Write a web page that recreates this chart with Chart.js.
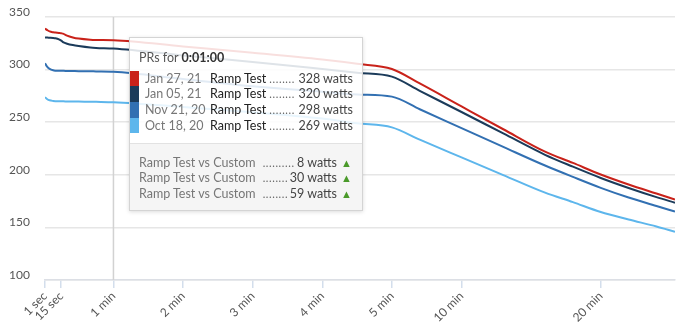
<!DOCTYPE html>
<html>
<head>
<meta charset="utf-8">
<script src="https://cdn.jsdelivr.net/npm/chart.js@4"></script>
<style>
  html, body { margin: 0; padding: 0; background: #fff; }
  #wrap { position: relative; width: 690px; height: 336px; font-family: Lato, "Open Sans", sans-serif; }
  canvas { display: block; }
  .pr-tip {
    position: absolute; box-sizing: border-box; width: 234px; height: 174px;
    border: 1px solid #d4d4d4; background: rgba(255, 255, 255, 0.86);
    box-shadow: 0 1px 4px rgba(0, 0, 0, 0.14); font-size: 12.5px; color: #666;
  }
  .pr-tip .head { padding: 11.5px 0 0 9px; line-height: 16px; height: 16px; color: #555; font-size: 12.5px; }
  .pr-tip .head b { color: #333; }
  .pr-tip .rows { margin-top: 5.3px; height: 62.4px; }
  .pr-tip .row { display: flex; height: 15.6px; line-height: 15.6px; white-space: nowrap; padding-right: 9px; }
  .pr-tip .sw { width: 9.5px; flex: none; margin-right: 5.5px; }
  .pr-tip .date { width: 65px; flex: none; color: #777; }
  .pr-tip .name { color: #222; flex: none; margin-right: 3px; }
  .pr-tip .lead { flex: 1; overflow: hidden; color: #666; letter-spacing: 0.6px; font-size: 11px; }
  .pr-tip .val { flex: none; color: #444; margin-left: 3px; }
  .pr-tip .foot {
    position: absolute; left: 0; right: 0; top: 105px; bottom: 0;
    border-top: 1px solid #e2e2e2; background: rgba(244, 244, 244, 0.9);
    padding: 10.5px 10px 0 9px;
  }
  .pr-tip .foot .row { padding-right: 0; }
  .pr-tip .foot .name { color: #777; }
  .pr-tip .up { flex: none; color: #4a9a2a; font-size: 11px; margin-left: 4px; }
</style>
</head>
<body>
<div id="wrap">
  <canvas id="curve" width="690" height="336"></canvas>
  <div id="tip" class="pr-tip">
    <div class="head">PRs for <b>0:01:00</b></div>
    <div class="rows"></div>
    <div class="foot"></div>
  </div>
</div>
<script>
// Durations of each power-curve point, in seconds
const durations = [1, 3, 5, 8, 10, 13, 15, 17, 20, 25, 30, 40, 45, 60, 120, 180, 240, 270, 300, 420, 600, 780, 960, 1080, 1200, 1320, 1440, 1520]

// Best watts per duration for each PR
const jan27 = [339, 337.5, 336.3, 335.5, 335.2, 334.8, 334.5, 334, 332.3, 330.6, 329.5, 328.4, 328.2, 328, 322, 316, 309.5, 305.5, 300.6, 286.8, 265, 243.3, 222, 211.3, 200.3, 190.8, 182.2, 176.5]
const jan05 = [330.6, 330.4, 330.3, 330.1, 329.8, 328.8, 327.5, 325.8, 324.6, 323.3, 322.4, 321, 320.6, 320, 313.5, 307.3, 300.5, 297, 293.3, 279.8, 259.7, 239.3, 219, 207.7, 197, 187.5, 178.8, 173.5]
const nov21 = [306, 302.5, 300.6, 299.3, 299, 298.9, 298.8, 298.8, 298.7, 298.6, 298.5, 298.4, 298.3, 298, 291, 284.2, 279, 276.3, 274.3, 262.3, 244.4, 226.5, 208.8, 198, 187.6, 178.4, 170.4, 165]
const oct18 = [273.8, 271.8, 270.8, 270.2, 270, 269.9, 269.8, 269.8, 269.7, 269.7, 269.6, 269.5, 269.4, 269, 264.5, 259.5, 253.5, 249, 245.1, 233.4, 216.5, 199.7, 183, 174, 164.6, 157.5, 150.9, 145.9]

const prDates = ['Jan 27, 21', 'Jan 05, 21', 'Nov 21, 20', 'Oct 18, 20']
const prNames = ['Ramp Test', 'Ramp Test', 'Ramp Test', 'Ramp Test']
const prColors = ['#c9221a', '#1b3b5a', '#3270b2', '#5db6ec']

const tickSeconds = [1, 15, 60, 120, 180, 240, 300, 600, 1200]
const tickLabels = ['1 sec', '15 sec', '1 min', '2 min', '3 min', '4 min', '5 min', '10 min', '20 min']
const yTicks = [100, 150, 200, 250, 300, 350]

const hoverSeconds = 60

// Time axis runs at full speed up to 5 min, then at a fifth of it
const toAxis = (sec) => sec <= 300 ? sec : 300 + (sec - 300) / 5

const seriesList = [jan27, jan05, nov21, oct18]

const datasets = seriesList.map((values, i) => ({
  label: prDates[i],
  data: durations.map((d, j) => ({ x: toAxis(d), y: values[j] })),
  borderColor: prColors[i],
  borderWidth: 2,
  pointRadius: 0,
  cubicInterpolationMode: 'monotone',
  fill: false
}))

const hoverLine = {
  id: 'hoverLine',
  beforeDatasetsDraw(chart) {
    const { ctx, chartArea, scales } = chart
    const x = scales.x.getPixelForValue(toAxis(hoverSeconds))
    ctx.save()
    ctx.strokeStyle = '#d2d2d2'
    ctx.lineWidth = 1.5
    ctx.beginPath()
    ctx.moveTo(x, chartArea.top)
    ctx.lineTo(x, chartArea.bottom)
    ctx.stroke()
    ctx.restore()
  }
}

const tickFont = { family: 'Lato, "Open Sans", sans-serif', size: 12 }

const chart = new Chart(document.getElementById('curve'), {
  type: 'line',
  data: { datasets },
  plugins: [hoverLine],
  options: {
    responsive: false,
    animation: false,
    events: [],
    layout: { padding: { top: 17, right: 15, left: 0, bottom: 0 } },
    plugins: { legend: { display: false }, tooltip: { enabled: false } },
    scales: {
      x: {
        type: 'linear',
        min: toAxis(1),
        max: toAxis(1520),
        afterBuildTicks: (scale) => {
          scale.ticks = tickSeconds.map((s) => ({ value: toAxis(s) }))
        },
        afterFit: (scale) => {
          scale.height = 56
          scale.paddingLeft = 0
          scale.paddingRight = 0
        },
        ticks: {
          autoSkip: false,
          minRotation: 45,
          maxRotation: 45,
          padding: 1,
          color: '#555',
          font: tickFont,
          callback: (value, index) => tickLabels[index]
        },
        grid: { drawOnChartArea: false, drawTicks: true, tickLength: 8, color: '#d3deec', lineWidth: 1.5 },
        border: { color: '#dcdfe5', width: 1.5 }
      },
      y: {
        min: 100,
        max: 350,
        afterBuildTicks: (scale) => {
          scale.ticks = yTicks.map((v) => ({ value: v }))
        },
        afterFit: (scale) => {
          scale.width = 45
          scale.paddingTop = 0
          scale.paddingBottom = 0
        },
        ticks: { padding: 15, labelOffset: -5, color: '#555', font: tickFont },
        grid: { drawTicks: false, color: '#e6e6e6', lineWidth: 1.5 },
        border: { display: false }
      }
    }
  }
})

// PR summary box anchored to the hovered duration
function buildTip() {
  const tip = document.getElementById('tip')
  const idx = durations.indexOf(hoverSeconds)
  const watts = seriesList.map((s) => Math.round(s[idx]))
  const dots = '.'.repeat(60)

  tip.querySelector('.rows').innerHTML = watts.map((w, i) =>
    `<div class="row"><span class="sw" style="background:${prColors[i]}"></span>` +
    `<span class="date">${prDates[i]}</span><span class="name">${prNames[i]}</span>` +
    `<span class="lead">${dots}</span><span class="val">${w} watts</span></div>`
  ).join('')

  tip.querySelector('.foot').innerHTML = watts.slice(1).map((w) =>
    `<div class="row"><span class="name">Ramp Test vs Custom</span>` +
    `<span class="lead" style="margin-left:4px">${dots}</span>` +
    `<span class="val">${watts[0] - w} watts</span><span class="up">&#9650;</span></div>`
  ).join('')

  const x = chart.scales.x.getPixelForValue(toAxis(hoverSeconds))
  tip.style.left = (x + 15.5) + 'px'
  tip.style.top = (chart.chartArea.top + 20) + 'px'
}
buildTip()
</script>
</body>
</html>
